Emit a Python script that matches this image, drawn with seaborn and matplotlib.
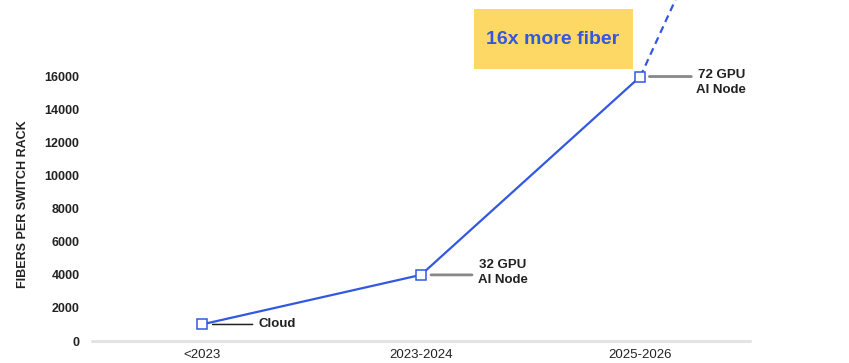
import matplotlib
matplotlib.use("Agg")
import matplotlib.pyplot as plt
import matplotlib.transforms as mtransforms
from matplotlib.patches import Rectangle
import seaborn as sns
import pandas as pd

# Data
periods = ["<2023", "2023-2024", "2025-2026"]
fibers = [1000, 4000, 16000]
node_labels = ["Cloud", "32 GPU\nAI Node", "72 GPU\nAI Node"]
# projected growth beyond 2025-2026 (dashed, runs off the top)
proj_pos = [2, 3]
proj_fibers = [16000, 45000]
y_ticks = [0, 2000, 4000, 6000, 8000, 10000, 12000, 14000, 16000]
callout = "16x more fiber"

BLUE = "#3358E0"
TEXT = "#222222"

sns.set_theme(style="white")
plt.rcParams["font.family"] = ["Liberation Sans", "DejaVu Sans"]

fig = plt.figure(figsize=(8.49, 3.63), dpi=100)
ax = fig.add_axes([92 / 849, 22 / 363, 658 / 849, 341 / 363])

df = pd.DataFrame({"pos": range(len(periods)), "fibers": fibers})

# projected dashed segment
ax.plot(proj_pos, proj_fibers, color=BLUE, lw=1.6, ls=(0, (3.2, 2.2)), zorder=2)

sns.lineplot(data=df, x="pos", y="fibers", ax=ax, color=BLUE, lw=1.6,
             marker="s", markersize=7, markerfacecolor="white",
             markeredgecolor=BLUE, markeredgewidth=1.1, zorder=3)

ax.set_xlim(-0.5, 2.5)
ax.set_ylim(0, 20630)
ax.axhline(0, color="#e3e3e3", lw=2.2, zorder=1, clip_on=False)

for s in ax.spines.values():
    s.set_visible(False)

ax.set_xticks(range(len(periods)))
ax.set_xticklabels(periods, fontsize=9.5, color=TEXT)
ax.set_yticks(y_ticks)
ax.set_yticklabels([str(v) for v in y_ticks], fontsize=9, fontweight="bold", color=TEXT)
ax.tick_params(axis="x", length=0, pad=6)
ax.tick_params(axis="y", length=0, pad=9)
ax.set_xlabel("")
ax.set_ylabel("FIBERS PER SWITCH RACK", fontsize=9, fontweight="bold", color=TEXT)
ax.yaxis.set_label_coords(-0.0955, 0.402)
ax.grid(False)

# leader lines and node labels
leader_style = [
    dict(color=TEXT, lw=1.1, a=11, b=51, tx=57, ty=0),
    dict(color="#888888", lw=2.0, a=10, b=51, tx=57, ty=2.5),
    dict(color="#888888", lw=2.0, a=9, b=51, tx=56, ty=-6),
]
for i, (val, lab, st) in enumerate(zip(fibers, node_labels, leader_style)):
    start = mtransforms.offset_copy(ax.transData, fig=fig, x=st["a"], y=0, units="dots")
    ax.annotate("", xy=(i, val), xycoords=start,
                xytext=(st["b"] - st["a"], 0), textcoords="offset pixels",
                arrowprops=dict(arrowstyle="-", color=st["color"], lw=st["lw"],
                                shrinkA=0, shrinkB=0), annotation_clip=False)
    ax.annotate(lab, xy=(i, val), xytext=(st["tx"], st["ty"]), textcoords="offset pixels",
                ha="left", va="center", multialignment="center", fontsize=9.5,
                fontweight="bold", color=TEXT, linespacing=1.25)

# callout box
fig.patches.append(Rectangle((474 / 849, 1 - 69 / 363), 159 / 849, 60 / 363,
                             transform=fig.transFigure, facecolor="#FDD865",
                             edgecolor="none", zorder=0))
fig.text(553 / 849, 1 - 39 / 363, callout, ha="center", va="center",
         fontsize=14, fontweight="bold", color=BLUE)

fig.savefig("out.png", dpi=100)
